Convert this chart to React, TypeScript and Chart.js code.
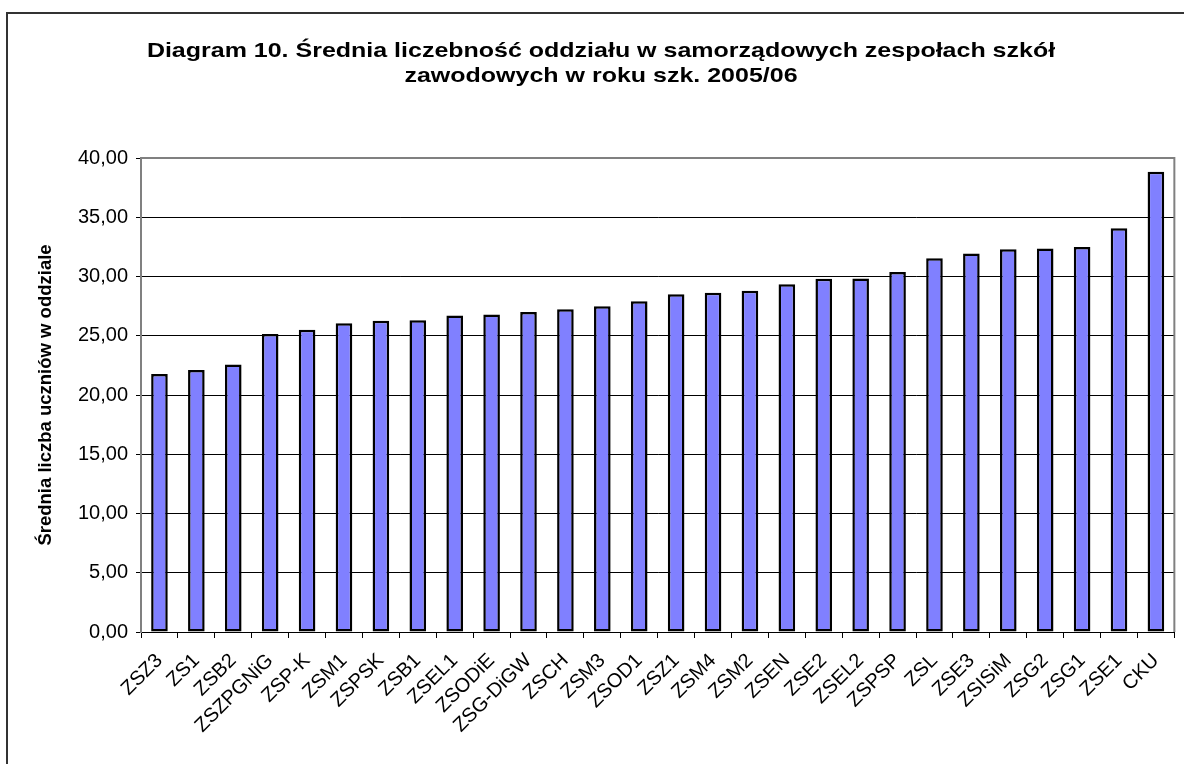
import React, { useEffect, useRef } from "react";
import { Chart, registerables } from "chart.js";

Chart.register(...registerables);

const titleLines = [
  "Diagram 10. Średnia liczebność oddziału w samorządowych zespołach szkół",
  "zawodowych w roku szk. 2005/06",
];
const yAxisTitle = "Średnia liczba uczniów w oddziale";
const categories = [
  "ZSZ3", "ZS1", "ZSB2", "ZSZPGNiG", "ZSP-K", "ZSM1", "ZSPSK", "ZSB1", "ZSEL1", "ZSODiE",
  "ZSG-DiGW", "ZSCH", "ZSM3", "ZSOD1", "ZSZ1", "ZSM4", "ZSM2", "ZSEN", "ZSE2", "ZSEL2",
  "ZSPSP", "ZSL", "ZSE3", "ZSISiM", "ZSG2", "ZSG1", "ZSE1", "CKU",
];
const averageClassSize = [
  21.77, 22.1, 22.58, 25.15, 25.5, 26.05, 26.27, 26.3, 26.7, 26.8,
  27.0, 27.23, 27.5, 27.92, 28.51, 28.62, 28.79, 29.35, 29.8, 29.83,
  30.39, 31.54, 31.94, 32.3, 32.36, 32.5, 34.07, 38.85,
];
const yMin = 0;
const yMax = 40;
const yStep = 5;

const FONT = "'Liberation Sans', Arial, sans-serif";

const framePlugin = {
  id: "frame",
  beforeDraw(chart: any) {
    const ctx = chart.ctx;
    ctx.save();
    ctx.fillStyle = "#ffffff";
    ctx.fillRect(0, 0, chart.width, chart.height);
    ctx.strokeStyle = "#333333";
    ctx.lineWidth = 2;
    ctx.beginPath();
    ctx.moveTo(7, chart.height + 5);
    ctx.lineTo(7, 13);
    ctx.lineTo(chart.width + 5, 13);
    ctx.stroke();
    ctx.restore();
  },
  beforeDatasetsDraw(chart: any) {
    const { ctx, chartArea } = chart;
    ctx.save();
    ctx.strokeStyle = "#808080";
    ctx.lineWidth = 2;
    ctx.beginPath();
    ctx.moveTo(chartArea.left, chartArea.top);
    ctx.lineTo(chartArea.right, chartArea.top);
    ctx.lineTo(chartArea.right, chartArea.bottom);
    ctx.stroke();
    ctx.restore();
  },
  afterDraw(chart: any) {
    const ctx = chart.ctx;
    ctx.save();
    ctx.fillStyle = "#000000";
    ctx.font = `bold 21px ${FONT}`;
    ctx.textAlign = "center";
    ctx.textBaseline = "alphabetic";
    const baselines = [57, 82];
    titleLines.forEach((line, i) => {
      ctx.save();
      ctx.translate(601, baselines[i]);
      ctx.scale(1.19, 1);
      ctx.fillText(line, 0, 0);
      ctx.restore();
    });
    ctx.restore();
  },
};

export default function App() {
  const canvasRef = useRef<HTMLCanvasElement | null>(null);

  useEffect(() => {
    const canvas = canvasRef.current;
    if (!canvas) return;
    const chart = new Chart(canvas, {
      type: "bar",
      data: {
        labels: categories,
        datasets: [
          {
            data: averageClassSize,
            backgroundColor: "#8080FF",
            borderColor: "#000000",
            borderWidth: 2.5,
            borderSkipped: false,
            barPercentage: 0.45,
            categoryPercentage: 1,
          },
        ],
      },
      options: {
        responsive: false,
        animation: false,
        devicePixelRatio: 1,
        layout: { padding: { top: 158, right: 7, bottom: 0, left: 0 } },
        plugins: {
          legend: { display: false },
          tooltip: { enabled: false },
          title: { display: false },
        },
        scales: {
          x: {
            offset: true,
            grid: {
              display: true,
              drawOnChartArea: false,
              drawTicks: true,
              tickLength: 6,
              color: "#000000",
              offset: true,
            },
            border: { display: true, color: "#000000", width: 1 },
            ticks: {
              autoSkip: false,
              maxRotation: 45,
              minRotation: 45,
              padding: 11,
              color: "#000000",
              font: { family: FONT, size: 20 },
            },
            afterFit(scale: any) {
              scale.height = 132;
            },
          },
          y: {
            min: yMin,
            max: yMax,
            ticks: {
              stepSize: yStep,
              padding: 8,
              color: "#000000",
              font: { family: FONT, size: 20 },
              callback: (v: any) => Number(v).toFixed(2).replace(".", ","),
            },
            grid: {
              color: (c: any) => (c.tick && c.tick.value === yMax ? "#808080" : "#000000"),
              tickColor: "#000000",
              tickLength: 5,
              lineWidth: 1,
            },
            border: { display: true, color: "#808080", width: 2 },
            title: {
              display: true,
              text: yAxisTitle,
              color: "#000000",
              font: { family: FONT, size: 18.5, weight: "bold" },
              padding: { top: 35, bottom: 0 },
            },
            afterFit(scale: any) {
              scale.width = 141;
            },
          },
        },
      },
      plugins: [framePlugin],
    });
    return () => chart.destroy();
  }, []);

  return (
    <div style={{ position: "fixed", left: 0, top: 0, width: 1184, height: 764, overflow: "hidden", background: "#fff" }}>
      <canvas ref={canvasRef} width={1184} height={764} style={{ display: "block", width: 1184, height: 764 }} />
    </div>
  );
}
